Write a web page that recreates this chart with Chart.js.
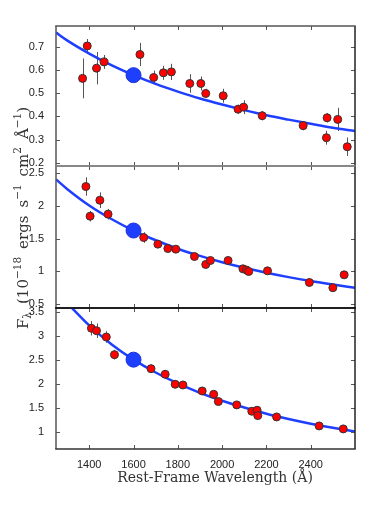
<!DOCTYPE html>
<html>
<head>
<meta charset="utf-8">
<title>Rest-frame UV continuum fits</title>
<script src="https://cdn.jsdelivr.net/npm/chart.js@4.4.0/dist/chart.umd.min.js"></script>
<style>
  body { margin: 0; background: #fff; }
  #wrap { position: relative; width: 374px; height: 515px; }
  #wrap canvas { position: absolute; left: 0; top: 0; }
</style>
</head>
<body>
<div id="wrap">
  <canvas id="panel_top" width="374" height="515"></canvas>
  <canvas id="panel_mid" width="374" height="515"></canvas>
  <canvas id="panel_bot" width="374" height="515"></canvas>
</div>
<script>
// x axis (rest-frame wavelength, Angstrom)
const xTicks = [1400, 1600, 1800, 2000, 2200, 2400];
const pivotLam = 1600;

// top panel
const topLam  = [1370, 1391, 1433, 1467, 1629, 1691, 1735, 1771, 1854, 1904, 1926, 2005, 2072, 2097, 2181, 2366, 2471, 2474, 2522, 2565];
const topFlux = [0.564, 0.704, 0.608, 0.635, 0.667, 0.568, 0.588, 0.592, 0.542, 0.542, 0.499, 0.489, 0.431, 0.440, 0.403, 0.360, 0.308, 0.394, 0.387, 0.269];
const topErr  = [0.086, 0.030, 0.070, 0.030, 0.050, 0.030, 0.030, 0.035, 0.040, 0.030, 0.020, 0.030, 0.020, 0.030, 0.020, 0.020, 0.030, 0.020, 0.050, 0.040];
const topPivot = 0.578;
const topTicks = [0.2, 0.3, 0.4, 0.5, 0.6, 0.7];

// middle panel
const midLam  = [1385, 1404, 1448, 1485, 1646, 1710, 1755, 1791, 1875, 1926, 1947, 2027, 2094, 2110, 2120, 2205, 2394, 2500, 2551];
const midFlux = [2.296, 1.843, 2.087, 1.874, 1.517, 1.416, 1.349, 1.339, 1.227, 1.105, 1.166, 1.166, 1.039, 1.020, 0.998, 1.008, 0.830, 0.750, 0.947];
const midErr  = [0.14, 0.08, 0.12, 0.08, 0.08, 0.05, 0.05, 0.05, 0.05, 0.05, 0.05, 0.04, 0.05, 0.04, 0.05, 0.04, 0.04, 0.05, 0.04];
const midPivot = 1.624;
const midTicks = [0.5, 1, 1.5, 2, 2.5];

// bottom panel
const botLam  = [1410, 1433, 1477, 1514, 1679, 1743, 1788, 1823, 1910, 1962, 1983, 2066, 2134, 2158, 2161, 2246, 2438, 2547];
const botFlux = [3.167, 3.117, 2.985, 2.617, 2.325, 2.208, 2.000, 1.985, 1.860, 1.790, 1.640, 1.570, 1.437, 1.458, 1.346, 1.319, 1.131, 1.069];
const botErr  = [0.15, 0.15, 0.12, 0.10, 0.08, 0.08, 0.06, 0.06, 0.06, 0.06, 0.05, 0.04, 0.05, 0.05, 0.05, 0.04, 0.04, 0.04];
const botPivot = 2.513;
const botTicks = [1, 1.5, 2, 2.5, 3, 3.5];

// fitted curves
const curveLam = [1250, 1300, 1400, 1500, 1600, 1700, 1800, 1900, 2000, 2100, 2200, 2300, 2400, 2500, 2600];
const topCurve = [0.762, 0.728, 0.671, 0.621, 0.578, 0.540, 0.507, 0.477, 0.451, 0.427, 0.405, 0.386, 0.368, 0.351, 0.337];
const midCurve = [2.405, 2.26, 2.007, 1.80, 1.624, 1.475, 1.346, 1.236, 1.139, 1.054, 0.979, 0.912, 0.852, 0.799, 0.750];
const botCurveLam = [1320, 1400, 1500, 1600, 1700, 1800, 1900, 2000, 2100, 2200, 2300, 2400, 2500, 2600];
const botCurve = [3.60, 3.226, 2.835, 2.513, 2.245, 2.017, 1.822, 1.656, 1.515, 1.385, 1.275, 1.177, 1.091, 1.014];

Chart.defaults.font.family = "'Liberation Sans', Arial, sans-serif";
Chart.defaults.font.size = 11;
Chart.defaults.color = '#222';

const pairs = (xs, ys) => xs.map((x, i) => ({ x: x, y: ys[i] }));

const errorBars = {
  id: 'errorBars',
  beforeDatasetsDraw(chart) {
    const ds = chart.data.datasets[0];
    const xs = chart.scales.x, ys = chart.scales.y;
    const ctx = chart.ctx;
    ctx.save();
    ctx.strokeStyle = '#555';
    ctx.lineWidth = 1;
    ds.data.forEach((p, i) => {
      const e = ds.errs[i];
      const px = Math.round(xs.getPixelForValue(p.x)) + 0.5;
      ctx.beginPath();
      ctx.moveTo(px, ys.getPixelForValue(p.y - e));
      ctx.lineTo(px, ys.getPixelForValue(p.y + e));
      ctx.stroke();
    });
    ctx.restore();
  }
};

// box around each panel, with inward ticks on all four sides
const frame = {
  id: 'frame',
  afterDatasetsDraw(chart, args, opts) {
    const { left, right, top, bottom } = chart.chartArea;
    const xs = chart.scales.x, ys = chart.scales.y;
    const ctx = chart.ctx;
    const tl = 4;
    ctx.save();
    ctx.lineWidth = 1;
    ctx.strokeStyle = '#555';
    xTicks.forEach(v => {
      const px = Math.round(xs.getPixelForValue(v)) + 0.5;
      ctx.beginPath();
      ctx.moveTo(px, bottom); ctx.lineTo(px, bottom - tl);
      ctx.moveTo(px, top); ctx.lineTo(px, top + tl);
      ctx.stroke();
    });
    opts.yTicks.forEach(v => {
      const py = Math.round(ys.getPixelForValue(v)) + 0.5;
      ctx.beginPath();
      ctx.moveTo(left, py); ctx.lineTo(left + tl, py);
      ctx.moveTo(right, py); ctx.lineTo(right - tl, py);
      ctx.stroke();
    });
    ctx.lineWidth = 1.5;
    const edge = (c, x1, y1, x2, y2) => {
      ctx.strokeStyle = c;
      ctx.beginPath(); ctx.moveTo(x1, y1); ctx.lineTo(x2, y2); ctx.stroke();
    };
    edge(opts.edges.left, left, top, left, bottom);
    edge(opts.edges.right, right, top, right, bottom);
    edge(opts.edges.top, left - 0.75, top, right + 0.75, top);
    edge(opts.edges.bottom, left - 0.75, bottom, right + 0.75, bottom);
    ctx.restore();
  }
};

// axis titles (drawn once, on the bottom panel's canvas)
const titles = {
  id: 'titles',
  afterDraw(chart) {
    const ctx = chart.ctx;
    const serif = "'DejaVu Serif', 'Liberation Serif', serif";
    ctx.save();
    ctx.fillStyle = '#333';
    ctx.font = '14px ' + serif;
    ctx.textAlign = 'center';
    ctx.textBaseline = 'middle';
    ctx.fillText('Rest-Frame Wavelength (\u00C5)', 215, 478);

    // F_lambda (10^-18 ergs s^-1 cm^2 A^-1), rotated
    const segs = [
      ['F', 15, 0], ['\u03BB', 10.5, 3], ['(10', 15, 0], ['\u221218', 10.5, -7],
      ['ergs', 15, 0], ['s', 15, 0], ['\u22121', 10.5, -7], ['cm', 15, 0], ['2', 10.5, -7],
      ['\u00C5', 15, 0], ['\u22121', 10.5, -7], [')', 15, 0]
    ];
    const gapAfter = [0, 1, 0, 1, 1, 0, 1, 0, 1, 0, 0, 0];
    const span = 236;
    ctx.textAlign = 'left';
    ctx.textBaseline = 'alphabetic';
    let total = 0;
    segs.forEach(s => { ctx.font = s[1] + 'px ' + serif; total += ctx.measureText(s[0]).width; });
    const nGaps = gapAfter.reduce((a, b) => a + b, 0);
    const gap = Math.min(8, Math.max(3, (span - total) / nGaps));
    ctx.translate(28, 218);
    ctx.rotate(-Math.PI / 2);
    let x = -(total + gap * nGaps) / 2;
    segs.forEach((s, i) => {
      ctx.font = s[1] + 'px ' + serif;
      ctx.fillText(s[0], x, s[2]);
      x += ctx.measureText(s[0]).width + gapAfter[i] * gap;
    });
    ctx.restore();
  }
};

function makePanel(id, p) {
  const plugins = [errorBars, frame];
  if (p.showX) plugins.push(titles);
  return new Chart(document.getElementById(id), {
    type: 'scatter',
    data: {
      datasets: [
        {
          data: pairs(p.lam, p.flux),
          errs: p.err,
          backgroundColor: '#ff0000',
          borderColor: '#333',
          borderWidth: 1,
          pointRadius: 4
        },
        {
          data: [{ x: pivotLam, y: p.pivot }],
          backgroundColor: '#1f3fff',
          borderColor: '#1a33d6',
          borderWidth: 1,
          pointRadius: 7.5
        },
        {
          data: pairs(p.curveLam, p.curve),
          showLine: true,
          pointRadius: 0,
          borderColor: '#1f3fff',
          borderWidth: 2.5,
          cubicInterpolationMode: 'monotone'
        }
      ]
    },
    options: {
      responsive: false,
      animation: false,
      devicePixelRatio: 1,
      layout: { padding: { left: 0, right: 19, top: p.padTop, bottom: p.padBottom } },
      plugins: {
        legend: { display: false },
        tooltip: { enabled: false },
        frame: { yTicks: p.yTicks, edges: p.edges }
      },
      scales: {
        x: {
          type: 'linear',
          min: 1250,
          max: 2600,
          display: p.showX,
          grid: { display: false },
          border: { display: false },
          ticks: { padding: 1, callback: v => String(v) },
          afterBuildTicks: s => { s.ticks = xTicks.map(v => ({ value: v })); },
          afterFit: s => { if (p.showX) s.height = 20; }
        },
        y: {
          min: p.yMin,
          max: p.yMax,
          grid: { display: false },
          border: { display: false },
          ticks: { padding: 4, callback: v => String(v) },
          afterBuildTicks: s => { s.ticks = p.yTicks.map(v => ({ value: v })); },
          afterFit: s => { s.width = 56; }
        }
      }
    },
    plugins: plugins
  });
}

makePanel('panel_top', {
  lam: topLam, flux: topFlux, err: topErr, pivot: topPivot,
  curveLam: curveLam, curve: topCurve, yTicks: topTicks,
  yMin: 0.186, yMax: 0.79, padTop: 26, padBottom: 349, showX: false,
  edges: { left: '#555', right: '#222', top: '#555', bottom: '#808080' }
});
makePanel('panel_mid', {
  lam: midLam, flux: midFlux, err: midErr, pivot: midPivot,
  curveLam: curveLam, curve: midCurve, yTicks: midTicks,
  yMin: 0.44, yMax: 2.61, padTop: 166, padBottom: 207, showX: false,
  edges: { left: '#555', right: '#222', top: '#808080', bottom: '#111' }
});
makePanel('panel_bot', {
  lam: botLam, flux: botFlux, err: botErr, pivot: botPivot,
  curveLam: botCurveLam, curve: botCurve, yTicks: botTicks,
  yMin: 0.65, yMax: 3.59, padTop: 308, padBottom: 46, showX: true,
  edges: { left: '#555', right: '#222', top: '#111', bottom: '#333' }
});
</script>
</body>
</html>
